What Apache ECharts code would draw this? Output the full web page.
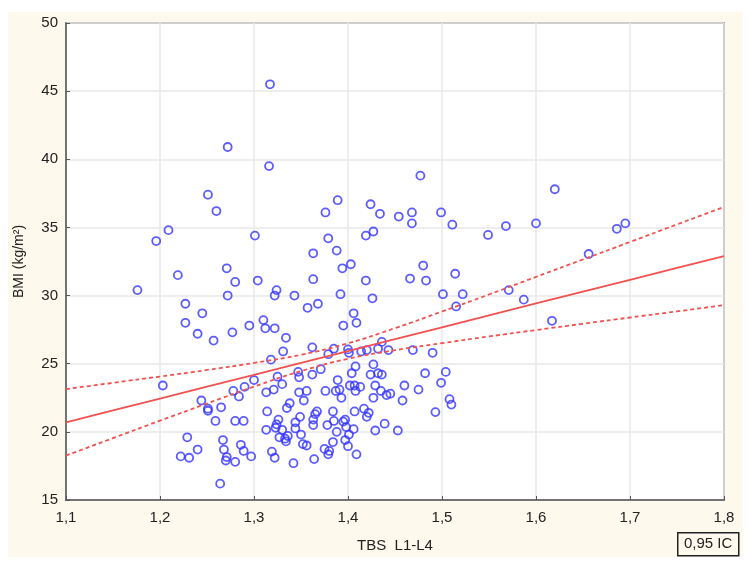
<!DOCTYPE html>
<html>
<head>
<meta charset="utf-8">
<script src="https://cdn.jsdelivr.net/npm/echarts@6/dist/echarts.min.js"></script>
<style>
  html, body { margin: 0; padding: 0; background: #fff; }
  #paper { position: absolute; left: 8px; top: 12px; width: 735px; height: 545px; background: #fdf9ec; }
  #chart { position: absolute; left: 0; top: 0; width: 752px; height: 568px; }
</style>
</head>
<body>
<div id="paper"></div>
<div id="chart"></div>
<script>
// TBS L1-L4 / BMI pairs
const tbs = [
  1.317, 1.272, 1.316, 1.477, 1.620, 1.251, 1.389, 1.424, 1.260, 1.376,
  1.468, 1.499, 1.434, 1.454, 1.468, 1.511, 1.600, 1.568, 1.695, 1.686,
  1.209, 1.427, 1.549, 1.196, 1.301, 1.419, 1.379, 1.388, 1.363, 1.656,
  1.403, 1.394, 1.271, 1.480, 1.219, 1.514, 1.466, 1.363, 1.419, 1.483,
  1.304, 1.280, 1.176, 1.324, 1.571, 1.272, 1.322, 1.343, 1.392, 1.501,
  1.522, 1.426, 1.587, 1.227, 1.368, 1.357, 1.515, 1.245, 1.406, 1.310,
  1.227, 1.409, 1.617, 1.295, 1.395, 1.312, 1.322, 1.277, 1.240, 1.334,
  1.257, 1.436, 1.362, 1.385, 1.400, 1.420, 1.432, 1.443, 1.469, 1.331,
  1.401, 1.414, 1.379, 1.490, 1.318, 1.427, 1.408, 1.371, 1.347, 1.504,
  1.404, 1.482, 1.362, 1.424, 1.432, 1.436, 1.325, 1.348, 1.300, 1.389,
  1.499, 1.203, 1.330, 1.402, 1.407, 1.413, 1.429, 1.460, 1.290, 1.321,
  1.278, 1.313, 1.356, 1.348, 1.376, 1.387, 1.391, 1.408, 1.435, 1.475,
  1.445, 1.441, 1.284, 1.393, 1.427, 1.508, 1.244, 1.353, 1.458, 1.338,
  1.510, 1.265, 1.335, 1.251, 1.251, 1.417, 1.314, 1.367, 1.384, 1.407,
  1.422, 1.493, 1.365, 1.420, 1.349, 1.259, 1.280, 1.289, 1.326, 1.363,
  1.397, 1.385, 1.344, 1.395, 1.439, 1.324, 1.363, 1.378, 1.398, 1.323,
  1.406, 1.313, 1.330, 1.429, 1.453, 1.344, 1.388, 1.350, 1.401, 1.336,
  1.327, 1.229, 1.333, 1.334, 1.397, 1.267, 1.384, 1.352, 1.356, 1.286,
  1.400, 1.240, 1.268, 1.289, 1.375, 1.380, 1.319, 1.379, 1.409, 1.222,
  1.231, 1.297, 1.322, 1.271, 1.270, 1.280, 1.364, 1.342, 1.264
];
const bmi = [
  45.5, 40.9, 39.5, 38.8, 37.8, 37.4, 37.0, 36.7, 36.2, 36.1,
  36.1, 36.1, 36.0, 35.8, 35.3, 35.2, 35.3, 35.1, 35.3, 34.9,
  34.8, 34.7, 34.45, 34.0, 34.4, 34.4, 34.2, 33.3, 33.1, 33.05,
  32.3, 32.0, 32.0, 32.2, 31.5, 31.6, 31.25, 31.2, 31.1, 31.1,
  31.1, 31.0, 30.4, 30.4, 30.4, 30.0, 30.0, 30.0, 30.1, 30.1,
  30.1, 29.8, 29.7, 29.4, 29.4, 29.1, 29.2, 28.7, 28.7, 28.2,
  28.0, 28.0, 28.15, 27.8, 27.8, 27.6, 27.6, 27.3, 27.2, 26.9,
  26.7, 26.6, 26.2, 26.1, 26.05, 26.0, 26.1, 26.0, 26.0, 25.9,
  25.8, 25.9, 25.7, 25.8, 25.3, 24.95, 24.8, 24.6, 24.4, 24.4,
  24.3, 24.3, 24.2, 24.2, 24.3, 24.2, 24.05, 24.0, 23.8, 23.8,
  23.6, 23.4, 23.5, 23.4, 23.4, 23.3, 23.4, 23.4, 23.3, 23.1,
  23.0, 22.9, 23.0, 22.9, 23.0, 23.0, 23.1, 23.0, 23.0, 23.1,
  22.8, 22.7, 22.6, 22.5, 22.5, 22.4, 22.3, 22.3, 22.3, 22.1,
  22.0, 21.8, 21.75, 21.7, 21.55, 21.7, 21.5, 21.5, 21.5, 21.5,
  21.4, 21.45, 21.3, 21.1, 21.1, 20.8, 20.8, 20.8, 20.9, 20.9,
  20.9, 20.8, 20.7, 20.75, 20.6, 20.55, 20.5, 20.5, 20.35, 20.3,
  20.2, 20.15, 20.15, 20.1, 20.1, 20.25, 20.0, 19.8, 19.8, 19.7,
  19.6, 19.6, 19.5, 19.3, 19.4, 19.4, 19.25, 19.1, 19.0, 19.05,
  18.95, 18.7, 18.7, 18.6, 18.75, 18.6, 18.55, 18.35, 18.35, 18.2,
  18.1, 18.2, 18.1, 18.15, 17.9, 17.8, 18.0, 17.7, 16.2
];

// regression line and 0,95 confidence band, read at fixed TBS steps
const fitX  = [1.10, 1.15, 1.20, 1.25, 1.30, 1.35, 1.40, 1.45, 1.50, 1.55, 1.60, 1.65, 1.70, 1.75, 1.80];
const fitY  = [20.7, 21.57, 22.44, 23.31, 24.19, 25.06, 25.93, 26.8, 27.67, 28.54, 29.42, 30.29, 31.16, 32.03, 32.9];
const upper = [23.14, 23.6, 24.06, 24.54, 25.06, 25.66, 26.5, 27.61, 28.83, 30.08, 31.37, 32.65, 33.93, 35.22, 36.5];
const lower = [18.26, 19.54, 20.82, 22.08, 23.32, 24.46, 25.36, 25.99, 26.51, 27.0, 27.47, 27.93, 28.39, 28.84, 29.3];

const xTicks = [1.1, 1.2, 1.3, 1.4, 1.5, 1.6, 1.7, 1.8];

const chart = echarts.init(document.getElementById('chart'));

const pts = tbs.map((v, i) => [v, bmi[i]]);
const pair = arr => fitX.map((v, i) => [v, arr[i]]);

const font = "'Liberation Sans Narrow', 'Liberation Sans', Arial, sans-serif";
const red = '#f2514f';

chart.setOption({
  animation: false,
  backgroundColor: 'transparent',
  textStyle: { fontFamily: font },
  grid: {
    left: 66, right: 28, top: 23, bottom: 68,
    show: true,
    backgroundColor: '#ffffff',
    borderColor: '#555',
    borderWidth: 1.5
  },
  xAxis: {
    type: 'value',
    min: 1.1, max: 1.8, interval: 0.1,
    name: 'TBS  L1-L4',
    nameLocation: 'middle',
    nameGap: 38,
    nameTextStyle: { fontSize: 15, color: '#222', fontFamily: font },
    axisLine: { show: true, lineStyle: { color: '#555', width: 1.5 } },
    axisTick: { show: true, inside: true, length: 4, lineStyle: { color: '#555' } },
    axisLabel: {
      fontSize: 15, color: '#222', margin: 10, fontFamily: font,
      formatter: v => xTicks.indexOf(Math.round(v * 10) / 10) >= 0 ? (Math.round(v * 10) / 10).toFixed(1).replace('.', ',') : ''
    },
    splitLine: { show: true, lineStyle: { color: '#e8e8e8', width: 1.5 } }
  },
  yAxis: {
    type: 'value',
    min: 15, max: 50, interval: 5,
    name: 'BMI (kg/m²)',
    nameLocation: 'middle',
    nameGap: 40,
    nameTextStyle: { fontSize: 14, color: '#222', fontFamily: font },
    axisLine: { show: true, lineStyle: { color: '#555', width: 1.5 } },
    axisTick: { show: true, inside: true, length: 4, lineStyle: { color: '#555' } },
    axisLabel: { fontSize: 15, color: '#222', margin: 8, fontFamily: font },
    splitLine: { show: true, lineStyle: { color: '#e8e8e8', width: 1.5 } }
  },
  series: [
    {
      type: 'scatter',
      data: pts,
      symbol: 'circle',
      symbolSize: 8,
      itemStyle: { color: 'rgba(0,0,0,0)', borderColor: '#3535ff', borderWidth: 1.8 },
      z: 2
    },
    {
      type: 'line',
      data: pair(fitY),
      showSymbol: false,
      lineStyle: { color: red, width: 1.8 },
      z: 3
    },
    {
      type: 'line',
      data: pair(upper),
      smooth: true,
      showSymbol: false,
      lineStyle: { color: red, width: 1.8, type: [4, 3] },
      z: 3
    },
    {
      type: 'line',
      data: pair(lower),
      smooth: true,
      showSymbol: false,
      lineStyle: { color: red, width: 1.8, type: [4, 3] },
      z: 3
    }
  ],
  graphic: [
    {
      type: 'rect',
      left: 677, top: 532,
      shape: { width: 61, height: 23 },
      style: { fill: '#fdf9ec', stroke: '#222', lineWidth: 1.5 }
    },
    {
      type: 'text',
      left: 684, top: 536,
      style: { text: '0,95 IC', fontSize: 15, fontFamily: font, fill: '#222' }
    }
  ]
});
</script>
</body>
</html>
